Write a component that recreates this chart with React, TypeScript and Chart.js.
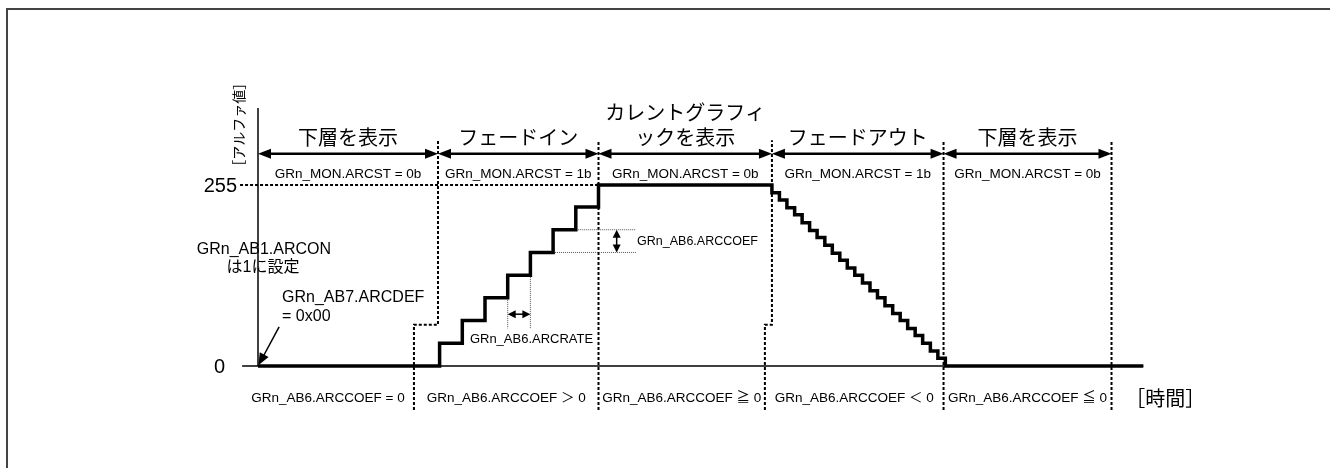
import React, { useEffect, useRef } from "react";
import { Chart, registerables } from "chart.js";

Chart.register(...registerables);

// ---- data ----
const yTickValues = [0, 255];
const yTickLabels = ["0", "255"];
const yAxisTitle = "［アルファ値］";
const xAxisTitle = "［時間］";

const phaseTitles = [
  ["下層を表示"],
  ["フェードイン"],
  ["カレントグラフィ", "ックを表示"],
  ["フェードアウト"],
  ["下層を表示"],
];
const phaseStartsTop = [0, 7.93, 15, 22.64, 30.2];
const phaseStartsBottom = [-0.7, 6.87, 15, 22.33, 30.2];
const phaseEnd = 37.6;
const arcstLabels = [
  "GRn_MON.ARCST = 0b",
  "GRn_MON.ARCST = 1b",
  "GRn_MON.ARCST = 0b",
  "GRn_MON.ARCST = 1b",
  "GRn_MON.ARCST = 0b",
];
const arccoefLabels = [
  "GRn_AB6.ARCCOEF = 0",
  "GRn_AB6.ARCCOEF ＞ 0",
  "GRn_AB6.ARCCOEF ≧ 0",
  "GRn_AB6.ARCCOEF ＜ 0",
  "GRn_AB6.ARCCOEF ≦ 0",
];
const registerWriteLevel = 58;

const startTime = 0;
const startLevel = 0;
const fadeInTimes = [8, 9, 10, 11, 12, 13, 14, 15];
const fadeInLevels = [32, 64, 96, 128, 160, 192, 224, 255];
const fadeOutTimes = [
  22.64, 22.97, 23.3, 23.64, 23.97, 24.3, 24.63, 24.97, 25.3, 25.63, 25.96, 26.29,
  26.63, 26.96, 27.29, 27.62, 27.96, 28.29, 28.62, 28.95, 29.28, 29.62, 29.95, 30.28,
];
const fadeOutLevels = [
  244, 234, 223, 213, 202, 191, 181, 170, 159, 149, 138, 128, 117, 106, 96, 85, 74, 64,
  53, 43, 32, 21, 11, 0,
];
const endTime = 39;

const LATIN = '"Liberation Sans", Arial, "Noto Sans CJK JP", sans-serif';
const CJK = '"Noto Sans CJK JP", "Liberation Sans", sans-serif';

function head(ctx: CanvasRenderingContext2D, x: number, y: number, dx: number, dy: number, len: number, hw: number) {
  const bx = x - dx * len;
  const by = y - dy * len;
  const px = -dy;
  const py = dx;
  ctx.beginPath();
  ctx.moveTo(x, y);
  ctx.lineTo(bx + px * hw, by + py * hw);
  ctx.lineTo(bx - px * hw, by - py * hw);
  ctx.closePath();
  ctx.fill();
}

function hDoubleArrow(ctx: CanvasRenderingContext2D, x1: number, x2: number, y: number, lw: number, len: number, hw: number) {
  ctx.save();
  ctx.setLineDash([]);
  ctx.lineWidth = lw;
  ctx.strokeStyle = "#000";
  ctx.fillStyle = "#000";
  ctx.beginPath();
  ctx.moveTo(x1 + len * 0.8, y);
  ctx.lineTo(x2 - len * 0.8, y);
  ctx.stroke();
  head(ctx, x1, y, -1, 0, len, hw);
  head(ctx, x2, y, 1, 0, len, hw);
  ctx.restore();
}

function vDoubleArrow(ctx: CanvasRenderingContext2D, x: number, y1: number, y2: number, lw: number, len: number, hw: number) {
  ctx.save();
  ctx.setLineDash([]);
  ctx.lineWidth = lw;
  ctx.strokeStyle = "#000";
  ctx.fillStyle = "#000";
  ctx.beginPath();
  ctx.moveTo(x, y1 + len * 0.8);
  ctx.lineTo(x, y2 - len * 0.8);
  ctx.stroke();
  head(ctx, x, y1, 0, -1, len, hw);
  head(ctx, x, y2, 0, 1, len, hw);
  ctx.restore();
}

const diagramPlugin = {
  id: "diagram",
  beforeDatasetsDraw(chart: any) {
    const ctx: CanvasRenderingContext2D = chart.ctx;
    const X = (t: number) => chart.scales.x.getPixelForValue(t);
    const Y = (a: number) => chart.scales.y.getPixelForValue(a);
    ctx.save();

    // outer frame
    ctx.strokeStyle = "#444";
    ctx.lineWidth = 2;
    ctx.beginPath();
    ctx.moveTo(7, 470);
    ctx.lineTo(7, 9);
    ctx.lineTo(1332, 9);
    ctx.stroke();

    // axes
    ctx.strokeStyle = "#000";
    ctx.lineWidth = 1.5;
    ctx.beginPath();
    ctx.moveTo(X(-0.7), Y(0));
    ctx.lineTo(X(endTime), Y(0));
    ctx.stroke();
    ctx.beginPath();
    ctx.moveTo(X(0), Y(0));
    ctx.lineTo(X(0), Y(363.5));
    ctx.stroke();

    // dashed boundaries
    ctx.setLineDash([3, 2]);
    ctx.lineWidth = 2;
    const topA = 318;
    const botA = -62;
    for (let i = 1; i < phaseStartsTop.length; i++) {
      const tt = phaseStartsTop[i];
      const tb = phaseStartsBottom[i];
      ctx.beginPath();
      if (Math.abs(tt - tb) > 0.01) {
        ctx.moveTo(X(tb), Y(botA));
        ctx.lineTo(X(tb), Y(registerWriteLevel));
        ctx.lineTo(X(tt), Y(registerWriteLevel));
        ctx.lineTo(X(tt), Y(topA));
      } else {
        ctx.moveTo(X(tt), Y(botA));
        ctx.lineTo(X(tt), Y(topA));
      }
      ctx.stroke();
    }
    ctx.beginPath();
    ctx.moveTo(X(phaseEnd), Y(botA));
    ctx.lineTo(X(phaseEnd), Y(topA));
    ctx.stroke();

    // 255 reference line
    ctx.beginPath();
    ctx.moveTo(X(-0.79), Y(255));
    ctx.lineTo(X(fadeInTimes[fadeInTimes.length - 1]), Y(255));
    ctx.stroke();

    // thin dotted helper lines (ARCRATE / ARCCOEF)
    ctx.setLineDash([1, 1]);
    ctx.lineWidth = 1;
    ctx.strokeStyle = "#555";
    const rateA = 53;
    ctx.beginPath();
    ctx.moveTo(X(fadeInTimes[3]), Y(fadeInLevels[2]));
    ctx.lineTo(X(fadeInTimes[3]), Y(rateA));
    ctx.moveTo(X(fadeInTimes[4]), Y(fadeInLevels[3]));
    ctx.lineTo(X(fadeInTimes[4]), Y(rateA));
    ctx.moveTo(X(fadeInTimes[5]), Y(fadeInLevels[4]));
    ctx.lineTo(X(16.65), Y(fadeInLevels[4]));
    ctx.moveTo(X(fadeInTimes[6]), Y(fadeInLevels[5]));
    ctx.lineTo(X(16.65), Y(fadeInLevels[5]));
    ctx.stroke();
    ctx.restore();
  },
  afterDatasetsDraw(chart: any) {
    const ctx: CanvasRenderingContext2D = chart.ctx;
    const X = (t: number) => chart.scales.x.getPixelForValue(t);
    const Y = (a: number) => chart.scales.y.getPixelForValue(a);
    ctx.save();
    ctx.fillStyle = "#000";
    ctx.textBaseline = "middle";

    // y tick labels
    ctx.font = `20px ${LATIN}`;
    ctx.textAlign = "right";
    yTickValues.forEach((v, i) => {
      const xr = v === 0 ? X(-1.45) : X(-0.92);
      ctx.fillText(yTickLabels[i], xr, Y(v) + 1);
    });

    // axis titles
    ctx.save();
    ctx.font = `14px ${CJK}`;
    ctx.textAlign = "center";
    ctx.translate(X(-0.83), Y(340));
    ctx.rotate(-Math.PI / 2);
    ctx.fillText(yAxisTitle, 0, 0);
    ctx.restore();
    ctx.font = `20px ${CJK}`;
    ctx.textAlign = "left";
    ctx.fillText(xAxisTitle, X(38.2), Y(-45));

    // phase arrows, titles, labels
    const bounds = [...phaseStartsTop, phaseEnd];
    const bBounds = [...phaseStartsBottom, phaseEnd];
    for (let i = 0; i < phaseTitles.length; i++) {
      const x1 = X(bounds[i]);
      const x2 = X(bounds[i + 1]);
      const cx = (x1 + x2) / 2;
      hDoubleArrow(ctx, x1, x2, Y(299), 2.5, 13, 5);
      ctx.font = `20px ${CJK}`;
      ctx.textAlign = "center";
      const lines = phaseTitles[i];
      lines.forEach((ln, k) => {
        const a = lines.length === 1 ? 322.6 : k === 0 ? 357.9 : 322.6;
        ctx.fillText(ln, cx, Y(a));
      });
      ctx.font = `13.5px ${LATIN}`;
      ctx.fillText(arcstLabels[i], cx, Y(270.5));
      const bx = (X(bBounds[i]) + X(bBounds[i + 1])) / 2;
      ctx.fillText(arccoefLabels[i], bx, Y(-45));
    }

    // ARCON / ARCDEF notes
    ctx.font = `16px ${LATIN}`;
    ctx.textAlign = "center";
    ctx.fillText("GRn_AB1.ARCON", X(0.26), Y(163.4));
    ctx.fillText("は1に設定", X(0.22), Y(138));
    ctx.textAlign = "left";
    ctx.fillText("GRn_AB7.ARCDEF", X(1.06), Y(95.8));
    ctx.fillText("= 0x00", X(1.06), Y(69));

    // pointer arrow to origin
    ctx.strokeStyle = "#000";
    ctx.lineWidth = 1.5;
    const sx = X(0.93), sy = Y(55);
    const ex = X(0.02), ey = Y(1);
    const L = Math.hypot(ex - sx, ey - sy);
    const dx = (ex - sx) / L, dy = (ey - sy) / L;
    ctx.beginPath();
    ctx.moveTo(sx, sy);
    ctx.lineTo(ex - dx * 8, ey - dy * 8);
    ctx.stroke();
    head(ctx, ex, ey, dx, dy, 12, 5);

    // ARCRATE indicator
    hDoubleArrow(ctx, X(fadeInTimes[3]), X(fadeInTimes[4]), Y(73), 1.5, 8, 4);
    ctx.font = `13px ${LATIN}`;
    ctx.textAlign = "center";
    ctx.fillText("GRn_AB6.ARCRATE", X(12.05), Y(38));

    // ARCCOEF indicator
    vDoubleArrow(ctx, X(15.8), Y(fadeInLevels[5]), Y(fadeInLevels[4]), 1.5, 8, 4);
    ctx.font = `12.5px ${LATIN}`;
    ctx.textAlign = "left";
    ctx.fillText("GRn_AB6.ARCCOEF", X(16.7), Y(176));

    ctx.restore();
  },
};

export default function App() {
  const ref = useRef<HTMLCanvasElement | null>(null);
  useEffect(() => {
    if (!ref.current) return;
    const points: { x: number; y: number }[] = [{ x: startTime, y: startLevel }];
    fadeInTimes.forEach((t, i) => points.push({ x: t, y: fadeInLevels[i] }));
    fadeOutTimes.forEach((t, i) => points.push({ x: t, y: fadeOutLevels[i] }));
    points.push({ x: endTime, y: fadeOutLevels[fadeOutLevels.length - 1] });

    const chart = new Chart(ref.current, {
      type: "line",
      data: {
        datasets: [
          {
            data: points,
            stepped: true,
            borderColor: "#000",
            borderWidth: 3.5,
            pointRadius: 0,
            fill: false,
            clip: false as any,
            borderJoinStyle: "miter",
            borderCapStyle: "butt",
          } as any,
        ],
      },
      options: {
        animation: false,
        responsive: false,
        devicePixelRatio: 1,
        events: [],
        layout: { padding: { left: 258, right: 186.7, top: 110.5, bottom: 102 } },
        scales: {
          x: { type: "linear", min: 0, max: endTime, display: false },
          y: { type: "linear", min: 0, max: 360, display: false },
        },
        plugins: { legend: { display: false }, tooltip: { enabled: false } },
      },
      plugins: [diagramPlugin],
    });
    return () => chart.destroy();
  }, []);

  return (
    <div style={{ position: "fixed", left: 0, top: 0, width: 1330, height: 468, background: "#fff" }}>
      <canvas ref={ref} width={1330} height={468} style={{ display: "block" }} />
    </div>
  );
}
